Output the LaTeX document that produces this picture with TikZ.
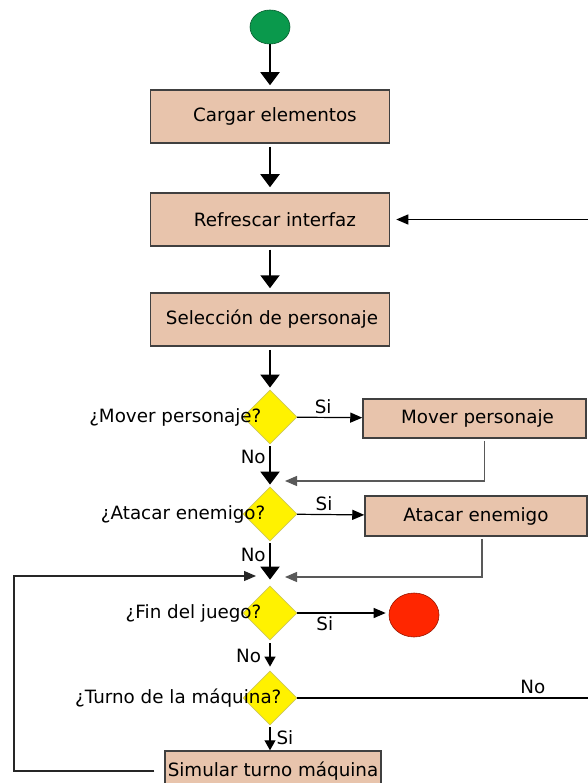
\documentclass[tikz,border=0pt]{standalone}
\usepackage{fontspec}
\setmainfont{DejaVu Sans}
\usetikzlibrary{shapes.geometric,arrows.meta}
\definecolor{caja}{RGB}{232,196,172}
\definecolor{verde}{RGB}{10,153,76}
\definecolor{rojo}{RGB}{255,38,0}
\begin{document}
\begin{tikzpicture}[x=1pt, y=-1pt, font=\fontsize{18.3}{21}\selectfont,
    paso/.style={rectangle, draw=black!75, line width=1.5pt, fill=caja, minimum width=239pt, minimum height=53pt, inner sep=2pt},
    pregunta/.style={diamond, draw=yellow!55!gray, fill=yellow, line width=0.8pt, minimum width=54pt, minimum height=54pt, inner sep=0pt},
    texto/.style={inner sep=0pt},
    flecha/.style={-{Triangle[width=19pt,length=13pt]}, line width=2pt},
    flechita/.style={-{Triangle[width=10pt,length=12pt]}, line width=1.2pt},
    retorno/.style={-{Triangle[width=10pt,length=12pt]}, line width=1.2pt, black!65}]
  \useasboundingbox (0,0) rectangle (587,783);

  \node[ellipse, fill=verde, draw=verde!60!black, line width=0.6pt, minimum width=40pt, minimum height=34pt, inner sep=0pt] at (270,27) (inicio) {};
  \node[paso] at (270,116.5) (cargar) {\hspace*{10pt}Cargar elementos};
  \node[paso] at (270,219.5) (refrescar) {\hspace*{10pt}Refrescar interfaz};
  \node[paso] at (270,319.5) (seleccion) {\hspace*{4pt}Selección de personaje};

  \node[pregunta, label={[texto, label distance=-19pt]left:¿Mover personaje?}] at (270,417) (pmover) {};
  \node[pregunta, label={[texto, label distance=-23pt]left:¿Atacar enemigo?}] at (270,514) (patacar) {};
  \node[pregunta, label={[texto, label distance=-19pt]left:¿Fin del juego?}] at (270,613) (pfin) {};
  \node[pregunta, label={[texto, label distance=-39pt]left:¿Turno de la máquina?}] at (270,698) (pturno) {};

  \node[paso, minimum width=223pt, minimum height=39pt] at (474.5,418.5) (mover) {\hspace*{6pt}Mover personaje};
  \node[paso, minimum width=222pt, minimum height=40pt] at (476,516) (atacar) {Atacar enemigo};
  \node[ellipse, fill=rojo, draw=rojo!60!black, line width=0.6pt, minimum width=50pt, minimum height=44pt, inner sep=0pt] at (414,615) (fin) {};
  \node[paso, minimum width=216pt, minimum height=40pt] at (273,771) (simular) {Simular turno máquina};

  \coordinate (union1) at (285,481);
  \coordinate (union2) at (285,577);
  \coordinate (union3) at (256,576);

  \draw[flecha, shorten >=4pt] (inicio) -- (cargar);
  \draw[flecha, shorten <=3pt, shorten >=5pt] (cargar) -- (refrescar);
  \draw[flecha, shorten <=3pt, shorten >=4pt] (refrescar) -- (seleccion);
  \draw[flecha, shorten <=3pt, shorten >=2pt] (seleccion) -- (pmover);
  \draw[flecha, shorten <=2pt, shorten >=2pt] (pmover) -- node[left, pos=0.3]{No} (patacar);
  \draw[flecha, shorten <=2pt, shorten >=6pt] (patacar) -- node[left, pos=0.3]{No} (pfin);
  \draw[-{Triangle[width=11pt,length=10pt]}, line width=1.2pt, shorten <=3pt, shorten >=4pt] (pfin) -- node[left, xshift=-5pt]{No} (pturno);
  \draw[-{Triangle[width=11pt,length=10pt]}, line width=1.2pt, shorten <=2pt] (pturno) -- node[right, texto, xshift=6pt]{Si} (pturno |- simular.north);

  \draw[flechita] (pmover) -- node[above, pos=0.4]{Si} (mover);
  \draw[flechita] (patacar) -- node[above, pos=0.4]{Si} (atacar);
  \draw[flechita, shorten >=3pt] (pfin) -- node[below, pos=0.3]{Si} (pfin -| fin.west);

  \draw[retorno, shorten <=2pt] ([xshift=10pt]mover.south) |- (union1);
  \draw[retorno, shorten <=2pt] ([xshift=6pt]atacar.south) |- (union2);
  \draw[flechita, black!85] ([xshift=-10pt]simular.west) -| (14,576) -- (union3);
  \draw[flechita, shorten >=6pt] (pturno) -- node[above, pos=0.73]{No} (620,698) |- (refrescar.east);
\end{tikzpicture}
\end{document}
